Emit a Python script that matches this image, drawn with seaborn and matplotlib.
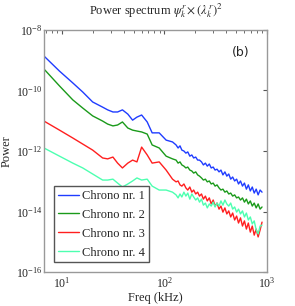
import numpy as np
import pandas as pd
import matplotlib
matplotlib.use('Agg')
import matplotlib.pyplot as plt
import seaborn as sns

# Frequencies (kHz), shared by all four chronos
freq = [6.7, 9.5, 12.8, 16, 20, 25, 28, 31.5, 35, 39, 44, 49, 54, 60, 68, 76, 89, 104, 120,
        130, 136, 142, 148, 155, 162, 169, 177, 185, 193, 202, 211, 220, 230, 240, 251, 262,
        274, 286, 299, 312, 326, 341, 356, 372, 389, 406, 424, 443, 463, 484, 506, 528, 552,
        577, 603, 630, 658, 688, 719, 751, 785, 820, 857, 895]

# log10 of power
chrono1 = [-8.86, -9.36, -9.75, -10.05, -10.38, -10.55, -10.64, -10.71, -10.71, -10.64, -10.78,
           -10.98, -10.88, -10.81, -11.04, -11.40, -11.40, -11.64, -11.70, -11.80, -11.90, -11.83,
           -11.97, -12.00, -12.07, -12.03, -12.17, -12.13, -12.23, -12.20, -12.30, -12.30, -12.36,
           -12.46, -12.40, -12.50, -12.43, -12.56, -12.53, -12.63, -12.60, -12.69, -12.63, -12.79,
           -12.69, -12.83, -12.76, -12.93, -12.86, -12.99, -12.93, -13.09, -12.99, -13.16, -13.06,
           -13.26, -13.12, -13.32, -13.19, -13.39, -13.26, -13.45, -13.29, -13.36]
chrono2 = [-9.29, -9.85, -10.31, -10.58, -10.84, -11.01, -11.11, -11.17, -11.14, -11.04, -11.24,
           -11.31, -11.34, -11.37, -11.44, -11.80, -11.90, -12.17, -12.26, -12.30, -12.40, -12.36,
           -12.46, -12.50, -12.56, -12.53, -12.63, -12.66, -12.73, -12.69, -12.79, -12.83, -12.89,
           -12.96, -12.93, -13.02, -12.99, -13.09, -13.06, -13.16, -13.12, -13.22, -13.29, -13.26,
           -13.36, -13.32, -13.42, -13.39, -13.49, -13.45, -13.55, -13.52, -13.62, -13.55, -13.69,
           -13.59, -13.75, -13.65, -13.82, -13.72, -13.88, -13.75, -13.92, -13.85]
chrono3 = [-11.01, -11.31, -11.57, -11.77, -11.97, -12.23, -12.26, -12.20, -12.40, -12.56, -12.40,
           -12.30, -12.36, -11.87, -12.13, -12.40, -12.36, -12.63, -12.93, -13.02, -12.99, -13.12,
           -13.16, -13.09, -13.22, -13.29, -13.19, -13.36, -13.29, -13.42, -13.36, -13.49, -13.42,
           -13.59, -13.49, -13.65, -13.55, -13.75, -13.62, -13.82, -13.72, -13.92, -13.82, -14.02,
           -13.88, -14.08, -13.98, -14.18, -14.05, -14.28, -14.15, -14.38, -14.21, -14.48, -14.31,
           -14.58, -14.38, -14.68, -14.48, -14.78, -14.58, -14.84, -14.61, -14.35]
chrono4 = [-11.90, -12.17, -12.40, -12.56, -12.76, -12.96, -12.96, -12.93, -13.06, -13.19, -13.09,
           -12.99, -12.89, -12.96, -12.93, -13.16, -13.29, -13.29, -13.36, -13.45, -13.55, -13.42,
           -13.52, -13.36, -13.49, -13.39, -13.59, -13.42, -13.52, -13.62, -13.55, -13.69, -13.59,
           -13.79, -13.72, -13.88, -13.75, -13.82, -13.69, -13.85, -13.72, -13.82, -13.65, -13.79,
           -13.62, -13.75, -13.82, -13.72, -13.92, -13.85, -14.02, -13.92, -14.08, -13.98, -14.18,
           -14.05, -14.28, -14.18, -14.41, -14.31, -14.61, -14.74, -14.48, -14.45]

labels = ['Chrono nr. 1', 'Chrono nr. 2', 'Chrono nr. 3', 'Chrono nr. 4']
colors = ['#1f3cff', '#1a9a1a', '#ff1f1f', '#4dffb0']


def build_frame():
    parts = []
    for lab, vals in zip(labels, [chrono1, chrono2, chrono3, chrono4]):
        parts.append(pd.DataFrame({'freq': freq, 'power': 10.0 ** np.array(vals), 'series': lab}))
    return pd.concat(parts, ignore_index=True)


df = build_frame()

sns.set_style('white')
plt.rcParams['font.family'] = ['Liberation Serif', 'DejaVu Serif']
plt.rcParams['mathtext.fontset'] = 'stix'

fig = plt.figure(figsize=(2.95, 3.06), dpi=100)
ax = fig.add_axes([0.149, 0.111, 0.756, 0.791])

sns.lineplot(data=df, x='freq', y='power', hue='series', palette=colors,
             estimator=None, sort=False, lw=1.0, ax=ax)

ax.set_xscale('log')
ax.set_yscale('log')
ax.set_xlim(6.7, 1000)
ax.set_ylim(1e-16, 1e-8)
ax.set_yticks([1e-16, 1e-14, 1e-12, 1e-10, 1e-8])
ax.yaxis.set_minor_locator(matplotlib.ticker.NullLocator())
ax.set_xticks([10, 100, 1000])

ax.tick_params(which='both', direction='in', top=True, right=True, labelsize=8.5,
               color='#555555')
ax.tick_params(axis='y', pad=1)
ax.tick_params(axis='x', pad=3)
ax.tick_params(which='major', length=3)
ax.tick_params(which='minor', length=1.8)
for s in ax.spines.values():
    s.set_color('#999999')
    s.set_linewidth(1.0)

ax.set_xlabel('Freq (kHz)', fontsize=9, labelpad=1)
ax.set_ylabel('Power', fontsize=9)
ax.yaxis.set_label_coords(-0.14, 0.5)
ax.set_title(r'Power spectrum $\psi^r_k \times (\lambda^r_k)^2$', fontsize=9, pad=11)
ax.text(0.883, 0.905, '(b)', transform=ax.transAxes, ha='center', va='center',
        fontsize=9, family='DejaVu Sans')

leg = ax.legend(loc='lower left', bbox_to_anchor=(0.045, 0.04), fontsize=9,
                handlelength=1.7, fancybox=False, framealpha=1, borderpad=0.3,
                labelspacing=0.55, handletextpad=0.25, borderaxespad=0)
leg.get_frame().set_edgecolor('#555555')

fig.savefig('out.png', dpi=100)
